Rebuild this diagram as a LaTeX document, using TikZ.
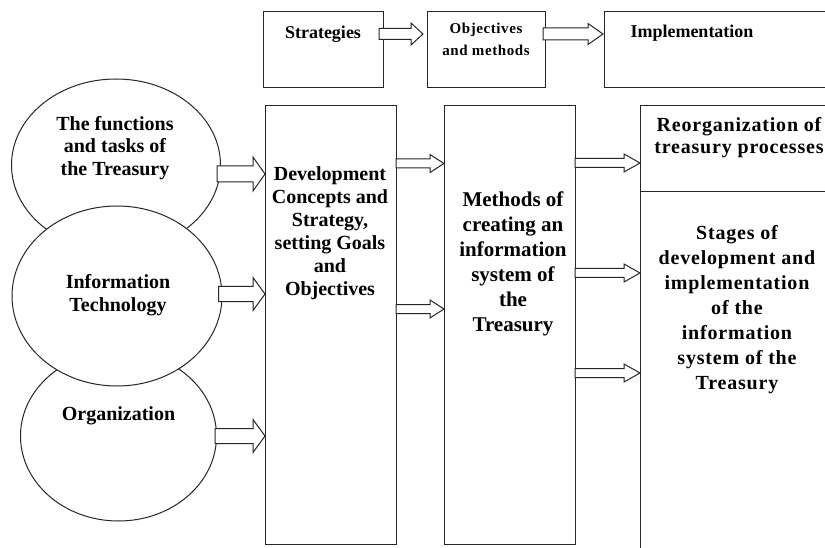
\documentclass[tikz,border=0pt]{standalone}
\usepackage{fontspec}
\setmainfont{Liberation Serif}
\newfontfamily\spacedfont[LetterSpace=4]{Liberation Serif}
\usetikzlibrary{shapes.geometric,calc}
\tikzset{
  edge/.style={draw=black!85, line width=1pt},
  box/.style={edge, rectangle, inner sep=0pt, anchor=north west, fill=white},
  oval/.style={edge, ellipse, inner sep=0pt, fill=white},
  lbl/.style={align=center, inner sep=0pt, text=black},
  barrow/.style={edge, fill=white, line join=miter},
  fA/.style={font=\fontsize{20}{22.5}\selectfont\bfseries},
  fB/.style={font=\fontsize{20}{23}\selectfont\bfseries},
  fC/.style={font=\fontsize{21}{25}\selectfont\bfseries},
  fD/.style={font=\spacedfont\fontsize{20}{22}\selectfont\bfseries},
  fE/.style={font=\spacedfont\fontsize{20}{25}\selectfont\bfseries},
  fT/.style={font=\fontsize{18}{22}\selectfont\bfseries},
  fO/.style={font=\spacedfont\fontsize{15}{22}\selectfont\bfseries},
}
% #1 source x, #2 target x, #3 y, #4 shaft half, #5 head half, #6 head length
\newcommand\blockarrow[6]{%
  \draw[barrow] let \p1=(#1), \p2=(#2), \p3=(0,#3) in
   (\x1,{\y3+#4pt}) -- ({\x2-#6pt},{\y3+#4pt}) -- ({\x2-#6pt},{\y3+#5pt}) --
   (\x2,\y3) -- ({\x2-#6pt},{\y3-#5pt}) -- ({\x2-#6pt},{\y3-#4pt}) --
   (\x1,{\y3-#4pt}) -- cycle;}
\begin{document}
\begin{tikzpicture}[x=1pt,y=-1pt]
\useasboundingbox (0,0) rectangle (825,548);
\clip (0,0) rectangle (825,548);
\fill[white] (0,0) rectangle (825,548);

% top row
\node[box, minimum width=120, minimum height=76] (s) at (263,11) {};
\node[box, minimum width=118, minimum height=76] (o) at (427,11) {};
\node[box, minimum width=240, minimum height=76] (im) at (604,11) {};
\node[lbl, fT] (st) at (323,34) {Strategies};
\node[lbl, fO] (ot) at (486,39) {Objectives\\and methods};
\node[lbl, fT] (it) at (692,33) {Implementation};

% circles
\node[oval, minimum width=209, minimum height=172] (c1) at (116,165) {};
\node[oval, minimum width=196, minimum height=170] (c3) at (118.5,436) {};
\node[oval, minimum width=210, minimum height=180] (c2) at (117,296) {};
\node[lbl, fA] (c1t) at (115,148) {The functions\\and tasks of\\the Treasury};
\node[lbl, fA] (c2t) at (118,295) {Information\\Technology};
\node[lbl, fA] (c3t) at (118.5,416) {Organization};

% main boxes
\node[box, minimum width=131, minimum height=439] (b1) at (265,105) {};
\node[box, minimum width=131, minimum height=439] (b2) at (444,105) {};
\node[box, minimum width=220, minimum height=86] (b3t) at (640,105) {};
\node[box, minimum width=220, minimum height=380] (b3b) at (640,191) {};
\node[lbl, fB] (b1t) at (330,233) {Development\\Concepts and\\Strategy,\\setting Goals\\and\\Objectives};
\node[lbl, fC] (b2t) at (513,264) {Methods of\\creating an\\information\\system of\\the\\Treasury};
\node[lbl, fD] (b3tt) at (739,138) {Reorganization of\\treasury processes};
\node[lbl, fE] (b3bt) at (737,310) {Stages of\\development and\\implementation\\of the\\information\\system of the\\Treasury};

% arrows
\blockarrow{$(s.east)+(-5,0)$}{$(o.west)+(-4,0)$}{34}{5.5}{11}{12}
\blockarrow{$(o.east)+(-3,0)$}{$(im.west)+(-1,0)$}{34}{6}{10.5}{15}
\blockarrow{$(c1.east)+(-4,0)$}{b1.west}{174}{8}{17}{12}
\blockarrow{$(c2.east)+(-4,0)$}{b1.west}{294}{7.5}{16.5}{12}
\blockarrow{$(c3.east)+(-2,0)$}{b1.west}{436}{7.5}{16.5}{12}
\blockarrow{$(b1.east)+(-1,0)$}{b2.west}{163.5}{4.5}{9}{14}
\blockarrow{$(b1.east)+(-1,0)$}{b2.west}{309}{4.5}{9}{14}
\blockarrow{$(b2.east)+(-1,0)$}{b3t.west}{163}{4.5}{9}{16}
\blockarrow{$(b2.east)+(-1,0)$}{b3b.west}{273}{4.5}{9}{16}
\blockarrow{$(b2.east)+(-1,0)$}{b3b.west}{373}{4.5}{9}{16}
\end{tikzpicture}
\end{document}
